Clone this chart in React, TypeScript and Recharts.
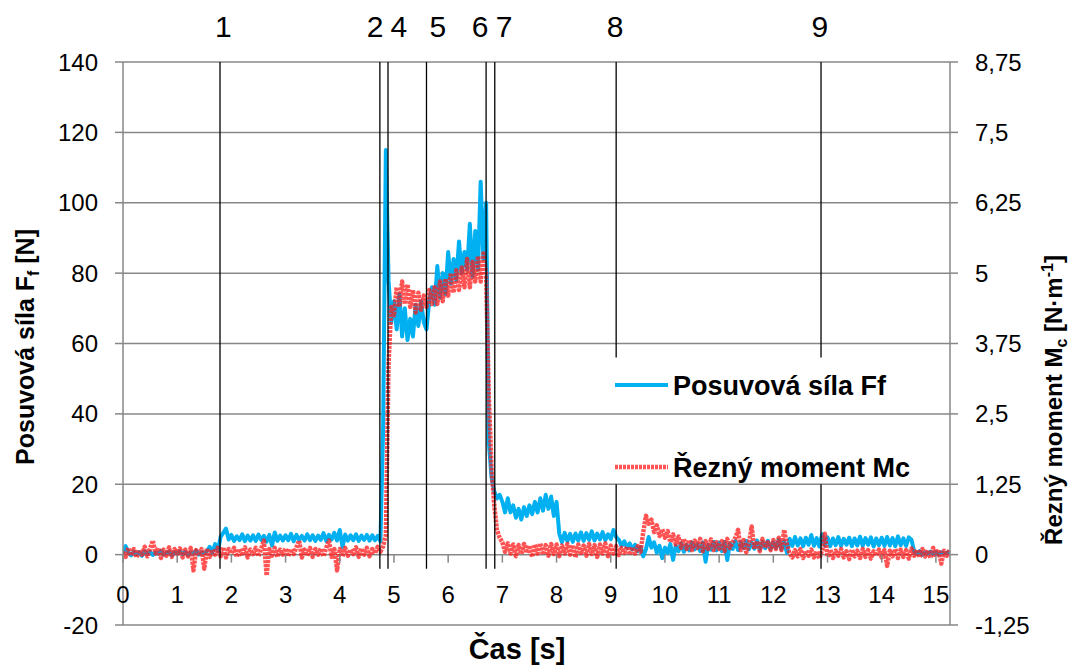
import React from "react";
import {
  LineChart,
  Line,
  XAxis,
  YAxis,
  CartesianGrid,
  ReferenceLine,
  ReferenceDot,
} from "recharts";

// Posuvová síla Ff [N], one row per second, sampled every 0.05 s
const ffValues = [
  0.3, 2.4, 0.6, -0.2, 0.9, 0.1, 0.7, -0.3, 1.0, 0.2, 0.8, -0.1, 0.6, 0.3, 1.1, 0.0, 0.5, 0.9, -0.2, 0.7,
  0.4, 1.0, 0.1, 0.8, -0.1, 0.6, 0.3, 1.2, 0.0, 0.7, 0.4, 1.0, 2.2, 0.6, 3.0, 1.0, 5.0, 6.2, 7.4, 4.3,
  5.6, 3.9, 5.2, 4.1, 5.8, 3.8, 5.4, 4.0, 5.5, 3.9, 5.7, 4.2, 5.3, 3.7, 5.6, 2.6, 6.3, 3.9, 5.4, 4.0,
  5.5, 4.1, 5.9, 3.8, 5.6, 4.2, 5.3, 4.0, 5.8, 4.1, 5.5, 3.9, 5.4, 4.2, 6.1, 3.9, 5.6, 4.3, 6.2, 4.0,
  7.0, 2.2, 5.7, 4.0, 5.5, 4.1, 5.8, 3.9, 5.4, 4.2, 5.6, 4.0, 5.5, 4.1, 5.3, 3.8, 36, 115, 78, 66,
  72, 64, 74, 62, 70, 61, 67, 62, 71, 65, 72, 66, 64, 72, 76, 71, 82, 73, 80, 74,
  86, 77, 84, 78, 89, 80, 86, 81, 94, 79, 92, 81, 106, 84, 100, 32, 22, 18, 16, 17,
  15, 12, 16, 12, 14, 10.5, 13, 10, 13.5, 11, 14, 11.5, 15, 12, 16, 12.5, 17, 13, 16.5, 11,
  15, 6, 3.5, 6.2, 3.8, 5.9, 3.6, 6.0, 4.0, 6.3, 3.9, 6.1, 4.2, 6.6, 4.0, 6.0, 4.3, 6.4, 4.1, 5.8,
  4.4, 7.0, 5.0, 4.2, 2.5, 3.8, 2.0, 3.2, 1.5, 2.8, 1.0, 2.2, -0.5, 1.5, 5.0, 2.0, 3.5, 0.5, 2.5, -1.0,
  2.0, 0.5, 3.0, -1.5, 2.5, 1.0, 3.2, 0.8, 2.8, 1.2, 3.5, 1.5, 3.0, 1.0, 3.4, -2.0, 2.8, 1.4, 3.6, 1.2,
  3.4, 1.0, 3.6, -1.5, 3.2, 1.6, 3.8, 1.3, 3.5, 1.8, 3.9, 1.5, 3.4, 1.7, 4.0, 1.4, 3.6, 1.8, 3.9, 1.6,
  3.5, 1.9, 4.2, 1.5, 3.8, 0.5, 4.5, 2.5, 5.0, 2.6, 4.6, 2.4, 4.8, 2.8, 5.6, 2.5, 4.7, 2.3, 5.8, 2.6,
  4.9, 2.4, 4.6, 2.7, 5.0, 2.5, 4.5, 2.8, 4.8, 2.4, 4.6, 2.6, 5.1, 2.5, 4.7, 2.8, 4.9, 2.3, 4.6, 2.7,
  4.8, 2.5, 5.0, 2.6, 4.7, 2.4, 5.2, 2.7, 4.6, 2.5, 4.9, 4.2, 0.8, 0.2, 1.0, -0.1, 0.6, 0.3, 0.9, 0.2,
  0.8, 0.0, 0.7, 0.3, 0.5, 0.9,
];

// Řezný moment Mc [N·m], same sampling
const mcValues = [
  0.05, -0.04, 0.12, -0.02, 0.1, -0.05, 0.08, 0.0, 0.14, -0.03, 0.11, 0.25, 0.02, 0.12, -0.06, 0.09, -0.02, 0.13, -0.04, 0.1,
  0.01, 0.11, -0.05, 0.09, -0.03, 0.12, -0.28, 0.08, -0.02, 0.1, -0.25, 0.11, -0.04, 0.09, 0.0, 0.12, -0.03, 0.13, -0.05, 0.1,
  0.02, 0.12, -0.04, 0.1, -0.02, 0.13, -0.05, 0.09, 0.01, 0.12, -0.03, 0.11, 0.25, -0.37, 0.1, -0.02, 0.12, -0.04, 0.09, 0.0,
  0.11, -0.03, 0.1, 0.01, 0.13, 0.25, -0.05, 0.09, -0.02, 0.12, -0.04, 0.1, 0.0, 0.11, -0.03, 0.12, 0.25, -0.04, 0.1, -0.28,
  0.1, -0.03, 0.12, -0.02, 0.09, 0.01, 0.13, -0.04, 0.11, 0.0, 0.12, -0.03, 0.1, 0.02, 0.14, 0.05, 0.15, 0.35, 3.4, 4.4,
  4.25, 4.75, 4.4, 4.85, 4.45, 4.8, 4.4, 4.7, 4.3, 4.65, 4.35, 4.6, 4.4, 4.7, 4.45, 4.75, 4.45, 4.85, 4.5, 4.9,
  4.6, 5.0, 4.65, 5.05, 4.7, 5.1, 4.75, 5.25, 4.75, 5.2, 4.85, 5.3, 4.85, 5.35, 5.0, 2.8, 1.55, 0.88, 0.44, 0.3,
  0.22, 0.05, 0.2, 0.02, 0.18, -0.03, 0.17, 0.01, 0.19, 0.03, 0.16, -0.04, 0.18, 0.02, 0.2, 0.0, 0.17, -0.02, 0.19, 0.01,
  0.18, -0.03, 0.16, 0.02, 0.19, 0.0, 0.17, -0.05, 0.18, 0.03, 0.16, -0.02, 0.19, 0.01, 0.17, -0.04, 0.18, 0.02, 0.2, -0.03,
  0.16, 0.02, 0.15, -0.01, 0.12, 0.03, 0.14, 0.0, 0.13, 0.02, 0.15, 0.05, 0.4, 0.69, 0.55, 0.62, 0.4, 0.52, 0.33, 0.45,
  0.3, 0.42, 0.22, 0.36, 0.18, 0.32, 0.12, 0.28, 0.1, 0.26, 0.08, 0.25, 0.12, 0.28, 0.06, 0.24, 0.1, 0.27, 0.08, 0.22,
  0.1, 0.24, 0.06, 0.28, 0.12, 0.22, 0.3, 0.44, 0.08, 0.26, 0.04, 0.2, 0.5, 0.1, 0.24, 0.06, 0.28, 0.12, 0.22, 0.08,
  0.26, 0.1, 0.3, 0.08, 0.44, 0.18, 0.02, -0.05, 0.08, -0.03, 0.1, -0.06, 0.07, -0.02, 0.09, -0.05, 0.06, -0.07, 0.08, 0.37,
  -0.04, 0.09, -0.06, 0.07, -0.02, 0.1, -0.05, 0.06, -0.08, 0.09, -0.03, 0.07, -0.06, 0.1, -0.04, 0.08, -0.07, 0.06, -0.02, 0.09,
  -0.05, 0.08, -0.2, 0.07, -0.03, 0.1, -0.06, 0.09, -0.04, 0.08, -0.07, 0.11, -0.02, 0.09, -0.05, 0.1, -0.03, 0.08, -0.06, 0.12,
  -0.04, 0.09, -0.16, 0.07, -0.02, 0.08,
];

const SAMPLE_STEP = 0.05;

const xTicks = [0, 1, 2, 3, 4, 5, 6, 7, 8, 9, 10, 11, 12, 13, 14, 15];
const leftTicks = [-20, 0, 20, 40, 60, 80, 100, 120, 140];
const rightTicks = [-1.25, 0, 1.25, 2.5, 3.75, 5, 6.25, 7.5, 8.75];

// phase markers: line position, label text, label position [s]
const markerX = [1.79, 4.74, 4.89, 5.6, 6.7, 6.86, 9.1, 12.88];
const markerLabel = ["1", "2", "4", "5", "6", "7", "8", "9"];
const markerLabelX = [1.85, 4.65, 5.09, 5.81, 6.59, 7.03, 9.08, 12.86];

const data = ffValues.map((v, i) => ({
  t: +(i * SAMPLE_STEP).toFixed(2),
  ff: v,
  mc: mcValues[i],
}));

const W = 1070;
const H = 668;
const TOP = 62;
const BOTTOM = 625;
const ZERO_Y = TOP + ((BOTTOM - TOP) * 140) / 160;
const FONT = '"Liberation Sans", Arial, sans-serif';
const GRID = "#878787";
const BLUE = "#00b0f0";
const RED = "#ff1a1a";

const XTick = (props: any) => {
  const { x, payload } = props;
  return (
    <g>
      <line x1={x} x2={x} y1={ZERO_Y} y2={ZERO_Y + 8} stroke={GRID} strokeWidth={1.5} />
      <text x={x} y={ZERO_Y + 48} textAnchor="middle" fontSize={24} fontFamily={FONT} fill="#000">
        {payload.value}
      </text>
    </g>
  );
};

const comma = (v: number) => String(v).replace(".", ",");

export default function App() {
  return (
    <div style={{ position: "relative", width: W, height: H, background: "#fff" }}>
      <style>{"body{margin:0}"}</style>
      <LineChart width={W} height={H} data={data} margin={{ top: TOP, right: 0, left: 0, bottom: 0 }}>
        <CartesianGrid vertical={false} yAxisId="l" stroke={GRID} strokeWidth={1.5} />
        <XAxis
          dataKey="t"
          type="number"
          domain={[0, 15.26]}
          ticks={xTicks}
          interval={0}
          allowDataOverflow
          height={H - BOTTOM}
          axisLine={false}
          tickLine={false}
          tick={<XTick />}
        />
        <YAxis
          yAxisId="l"
          domain={[-20, 140]}
          ticks={leftTicks}
          interval={0}
          width={123}
          stroke={GRID}
          strokeWidth={1.5}
          tickSize={8}
          tickMargin={17}
          tick={{ fontSize: 24, fontFamily: FONT, fill: "#000" }}
        />
        <YAxis
          yAxisId="r"
          orientation="right"
          domain={[-1.25, 8.75]}
          ticks={rightTicks}
          interval={0}
          width={120}
          stroke={GRID}
          strokeWidth={1.5}
          tickSize={8}
          tickMargin={17}
          tickFormatter={comma}
          tick={{ fontSize: 24, fontFamily: FONT, fill: "#000" }}
        />
        <Line
          yAxisId="l"
          type="linear"
          dataKey="ff"
          stroke={BLUE}
          strokeWidth={4}
          strokeLinejoin="round"
          dot={false}
          isAnimationActive={false}
        />
        <Line
          yAxisId="r"
          type="linear"
          dataKey="mc"
          stroke={RED}
          strokeWidth={4.5}
          strokeOpacity={0.75}
          strokeDasharray="3 1"
          strokeLinejoin="round"
          dot={false}
          isAnimationActive={false}
        />
        {markerX.map((x, i) =>
          i >= 6 ? (
            <React.Fragment key={i}>
              <ReferenceLine yAxisId="l" segment={[{ x, y: 140 }, { x, y: 56 }]} stroke="#000" strokeWidth={1.3} />
              <ReferenceLine yAxisId="l" segment={[{ x, y: 20 }, { x, y: -4 }]} stroke="#000" strokeWidth={1.3} />
            </React.Fragment>
          ) : (
            <ReferenceLine key={i} yAxisId="l" segment={[{ x, y: 140 }, { x, y: -4 }]} stroke="#000" strokeWidth={1.3} />
          )
        )}
        {markerLabelX.map((x, i) => (
          <ReferenceDot
            key={"l" + i}
            yAxisId="l"
            x={x}
            y={140}
            r={1}
            fill="none"
            stroke="none"
            label={{ value: markerLabel[i], position: "top", offset: 24, fontSize: 30, fontFamily: FONT, fill: "#000" }}
          />
        ))}
      </LineChart>
      <svg width={W} height={H} style={{ position: "absolute", left: 0, top: 0, pointerEvents: "none" }}>
        <text
          x={34}
          y={347}
          transform="rotate(-90, 34, 347)"
          textAnchor="middle"
          fontSize={25}
          fontWeight="bold"
          fontFamily={FONT}
        >
          Posuvová síla F<tspan fontSize={16} dy={5}>f</tspan>
          <tspan dy={-5}> [N]</tspan>
        </text>
        <text
          x={1062}
          y={400}
          transform="rotate(-90, 1062, 400)"
          textAnchor="middle"
          fontSize={24}
          fontWeight="bold"
          fontFamily={FONT}
        >
          Řezný moment M<tspan fontSize={16} dy={5}>c</tspan>
          <tspan dy={-5}> [N·m</tspan>
          <tspan fontSize={16} dy={-9}>-1</tspan>
          <tspan dy={9}>]</tspan>
        </text>
        <text x={517} y={659} textAnchor="middle" fontSize={29} fontWeight="bold" fontFamily={FONT}>
          Čas [s]
        </text>
        <line x1={615} x2={668} y1={385} y2={385} stroke={BLUE} strokeWidth={4} />
        <text x={673} y={395} fontSize={27} fontWeight="bold" fontFamily={FONT}>
          Posuvová síla Ff
        </text>
        <line x1={615} x2={668} y1={467} y2={467} stroke={RED} strokeWidth={4.5} strokeOpacity={0.75} strokeDasharray="3 1" />
        <text x={673} y={477} fontSize={27} fontWeight="bold" fontFamily={FONT}>
          Řezný moment Mc
        </text>
      </svg>
    </div>
  );
}
